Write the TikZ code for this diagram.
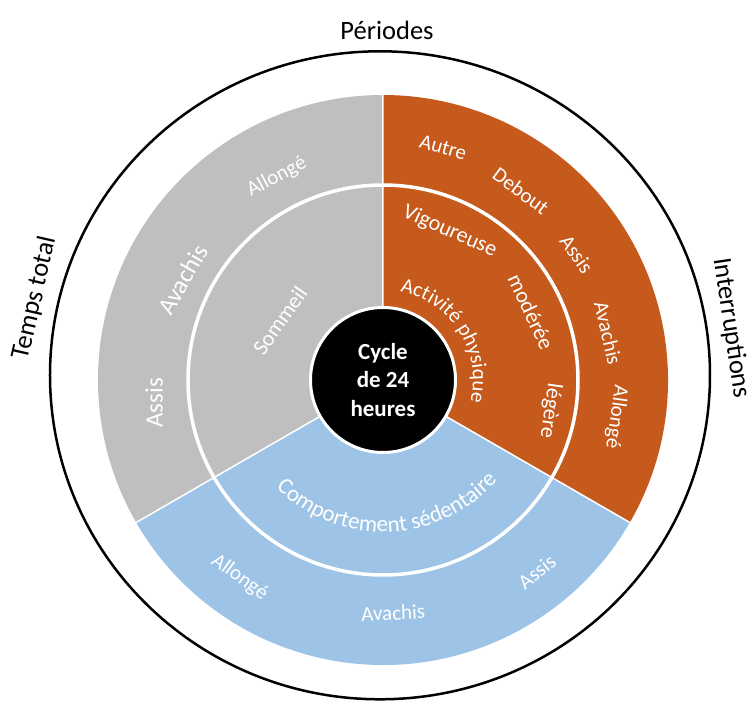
\documentclass[tikz,border=0pt]{standalone}
\usepackage{fontspec}
\setmainfont{Carlito}
\usetikzlibrary{decorations.text}
\definecolor{sgrey}{HTML}{BFBFBF}
\definecolor{sorange}{HTML}{C55A1C}
\definecolor{sblue}{HTML}{9DC3E6}
\begin{document}
\begin{tikzpicture}[x=1pt,y=1pt,
  lbl/.style={text=white, inner sep=0pt, font=\fontsize{21}{25}\selectfont},
  biglbl/.style={text=white, inner sep=0pt, font=\fontsize{25}{29}\selectfont},
  inlbl/.style={text=white, inner sep=0pt, font=\fontsize{22}{26}\selectfont},
  outlbl/.style={text=black, inner sep=0pt, font=\fontsize{26.5}{30}\selectfont},
  sep/.style={white, line width=1.5pt},
  ring/.style={white, line width=3.5pt}]
\useasboundingbox (-383,-326) rectangle (370,380);
% sectors
\fill[sgrey] (0,0) -- (90:285) arc[start angle=90,end angle=210,radius=285] -- cycle;
\fill[sorange] (0,0) -- (-30:285) arc[start angle=-30,end angle=90,radius=285] -- cycle;
\fill[sblue] (0,0) -- (210:285) arc[start angle=210,end angle=330,radius=285] -- cycle;
\draw[sep] (0,0) -- (90:285) (0,0) -- (210:285) (0,0) -- (330:285);
\draw[ring] (0,0) circle[radius=195];
% hub
\node[circle, fill=black, draw=white, line width=3pt, minimum size=145pt, inner sep=0pt,
  text=white, align=center, font=\fontsize{23}{28.5}\selectfont\bfseries] (hub) at (0,0) {Cycle\\de 24\\heures};
% outer circle
\draw[black, line width=2.5pt] (-3,4.7) ellipse[x radius=330, y radius=324];
% outside labels
\node[outlbl] (periodes) at (4,350) {Périodes};
\node[outlbl, rotate=77] (temps) at (-348,82) {Temps total};
\node[outlbl, rotate=-81.5] (interr) at (348,52) {Interruptions};
% grey sector
\node[lbl, rotate=28] (g-allonge) at (117.6:229) {Allongé};
\node[biglbl, rotate=60] (g-avachis) at (153.4:224) {Avachis};
\node[biglbl, rotate=90] (g-assis) at (185.7:230) {Assis};
\node[inlbl, rotate=55] (g-sommeil) at (150:119) {Sommeil};
% orange sector outer
\node[lbl, rotate=-16] (o-autre) at (75.5:240) {Autre};
\node[lbl, rotate=-36.5] (o-debout) at (53.9:234) {Debout};
\node[lbl, rotate=-55] (o-assis) at (33:231) {Assis};
\node[lbl, rotate=-77] (o-avachis) at (11.8:230) {Avachis};
\node[lbl, rotate=-98] (o-allonge) at (-9:236) {Allongé};
% orange sector inner
\node[inlbl, rotate=-24] (o-vig) at (65.8:163) {Vigoureuse};
\node[inlbl, rotate=-65] (o-mod) at (24.7:163) {modérée};
\node[inlbl, rotate=-98] (o-leg) at (-10.5:170) {légère};
\path[decorate, decoration={text along path, text align=center,
  text={|\fontsize{21}{25}\selectfont\color{white}|Activité physique}}]
  (122.5:90) arc[start angle=122.5, end angle=-57.5, radius=90];
% blue sector
\node[lbl, rotate=-36] (b-allonge) at (234:244) {Allongé};
\node[lbl, rotate=2.5] (b-avachis) at (272.5:233) {Avachis};
\node[lbl, rotate=38.7] (b-assis) at (308.7:246) {Assis};
\path[decorate, decoration={text along path, text align=center,
  text={|\fontsize{23}{27}\selectfont\color{white}|Comportement sédentaire}}]
  (182:152) arc[start angle=182, end angle=362, radius=152];
\end{tikzpicture}
\end{document}
